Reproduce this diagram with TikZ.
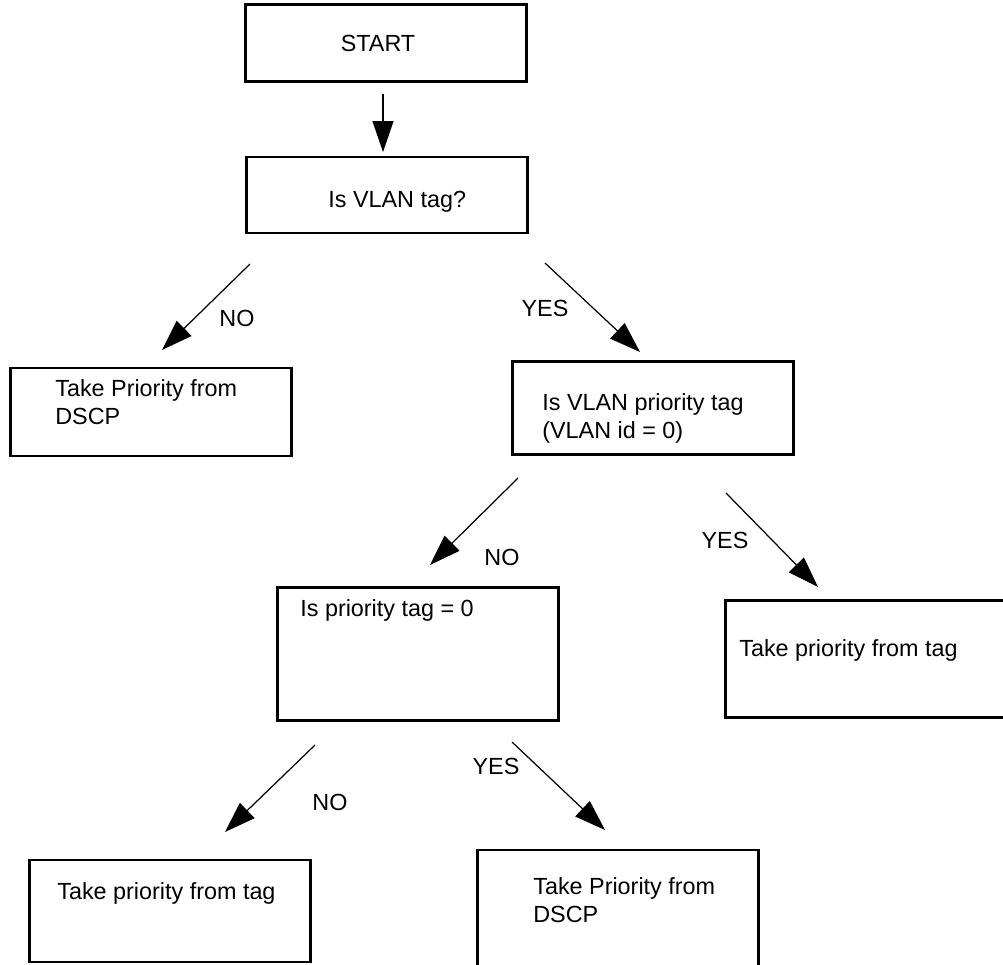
\documentclass[tikz,border=0pt]{standalone}
\usepackage{fontspec}
\setmainfont{Liberation Sans}
\usetikzlibrary{arrows.meta, positioning}

\begin{document}
\begin{tikzpicture}[
    x=0.02cm, y=-0.02cm,
    box/.style={
        draw, line width=1.6pt, inner sep=0pt,
        minimum width=5.62cm, minimum height=#1
    },
    txt/.style={
        font=\fontsize{13.3}{15.9}\selectfont,
        align=left, inner sep=0pt, anchor=west
    },
    lbl/.style={font=\fontsize{13.3}{15.9}\selectfont, inner sep=0pt},
    arr/.style={-{Triangle[length=0.62cm, width=0.42cm]}, line width=0.7pt}
]
    \useasboundingbox (0,0) rectangle (1003,964);

    % Top: start and first test
    \node[box=1.54cm] (start) at (386, 43) {};
    \node[lbl] (starttxt) at (378, 43) {START};

    \node[box=1.52cm] (vlantag) at (387, 195) {};
    \node[txt] (vlantagtxt) at (328, 202) {Is VLAN tag?};

    \coordinate (a1s) at (383, 94);
    \coordinate (a1e) at (383, 152);
    \draw[arr] (a1s) -- (a1e);

    % Second row
    \node[box=1.76cm] (dscpa) at (151, 412) {};
    \node[txt] (dscpatxt) at (55, 402) {Take Priority from\\DSCP};

    \node[box=1.86cm] (vlanprio) at (653, 408) {};
    \node[txt] (vlanpriotxt) at (542, 418) {Is VLAN priority tag\\(VLAN id = 0)};

    \coordinate (a2s) at (250, 264);
    \coordinate (a2e) at (162, 350);
    \draw[arr] (a2s) -- (a2e);
    \node[lbl] (no1) at (237, 318) {NO};

    \coordinate (a3s) at (545, 263);
    \coordinate (a3e) at (640, 352);
    \draw[arr] (a3s) -- (a3e);
    \node[lbl] (yes1) at (545, 308) {YES};

    % Third row
    \node[box=2.66cm] (priozero) at (418, 654) {};
    \node[txt] (priozerotxt) at (300, 610) {Is priority tag = 0};

    \node[box=2.34cm, minimum width=5.7cm] (tagb) at (868, 659) {};
    \node[txt] (tagbtxt) at (739, 650) {Take priority from tag};

    \coordinate (a4s) at (518, 478);
    \coordinate (a4e) at (430, 565);
    \draw[arr] (a4s) -- (a4e);
    \node[lbl] (no2) at (502, 557) {NO};

    \coordinate (a5s) at (726, 493);
    \coordinate (a5e) at (818, 587);
    \draw[arr] (a5s) -- (a5e);
    \node[lbl] (yes2) at (725, 540) {YES};

    % Bottom row
    \node[box=2.04cm] (taga) at (170, 911) {};
    \node[txt] (tagatxt) at (57, 893) {Take priority from tag};

    \node[box=2.48cm] (dscpb) at (618, 912) {};
    \node[txt] (dscpbtxt) at (533, 900) {Take Priority from\\DSCP};

    \coordinate (a6s) at (315, 745);
    \coordinate (a6e) at (225, 832);
    \draw[arr] (a6s) -- (a6e);
    \node[lbl] (no3) at (330, 802) {NO};

    \coordinate (a7s) at (512, 742);
    \coordinate (a7e) at (605, 830);
    \draw[arr] (a7s) -- (a7e);
    \node[lbl] (yes3) at (496, 766) {YES};
\end{tikzpicture}
\end{document}
